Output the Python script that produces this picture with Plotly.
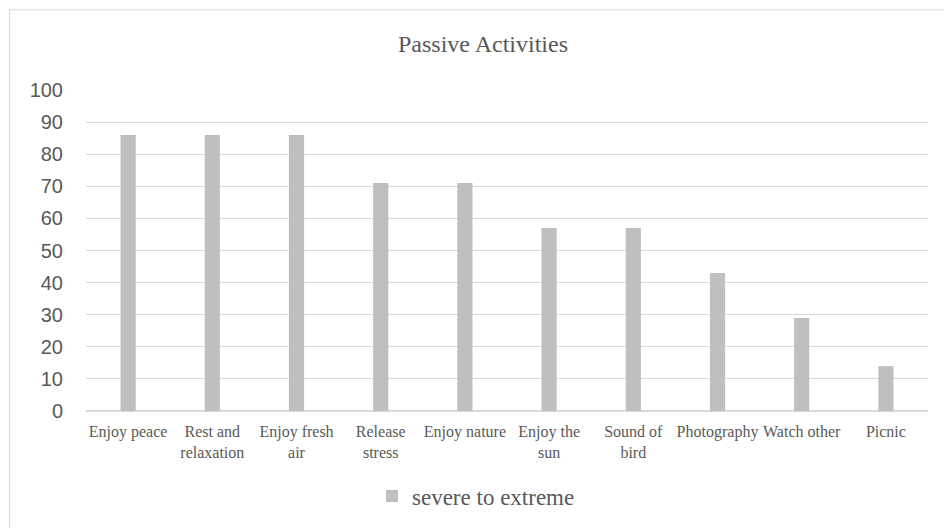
import plotly.graph_objects as go

# Passive activities rated "severe to extreme" (percent of respondents)
activities = [
    "Enjoy peace", "Rest and<br>relaxation", "Enjoy fresh<br>air", "Release<br>stress",
    "Enjoy nature", "Enjoy the<br>sun", "Sound of<br>bird", "Photography",
    "Watch other", "Picnic",
]
severe_to_extreme = [86, 86, 86, 71, 71, 57, 57, 43, 29, 14]
y_ticks = [0, 10, 20, 30, 40, 50, 60, 70, 80, 90, 100]

TEXT = "#595959"
GRID = "#d9d9d9"
BAR = "#bfbfbf"
SERIF = "Liberation Serif, Times New Roman, serif"
SANS = "Liberation Sans, Arial, sans-serif"

# plot-area geometry in pixels, used to place the frame lines in paper units
L, R, T, B = 86, 16, 90, 116
W, H = 944 - L - R, 528 - T - B


def px_x(p):
    return (p - L) / W


def px_y(p):
    return (528 - B - p) / H


fig = go.Figure(
    go.Bar(
        x=activities,
        y=severe_to_extreme,
        name="severe to extreme",
        marker=dict(color=BAR, line=dict(width=0)),
        width=0.18,
    )
)

fig.update_layout(
    width=944,
    height=528,
    margin=dict(l=L, r=R, t=T, b=B),
    paper_bgcolor="white",
    plot_bgcolor="white",
    title=dict(
        text="Passive Activities",
        font=dict(family=SERIF, size=24, color=TEXT),
        xref="paper", x=px_x(483), xanchor="center",
        yref="container", y=1 - 44 / 528, yanchor="middle",
    ),
    showlegend=True,
    legend=dict(
        orientation="h",
        font=dict(family=SERIF, size=23, color=TEXT),
        x=px_x(372), xanchor="left",
        y=px_y(496), yanchor="middle",
        itemwidth=30,
        bgcolor="rgba(0,0,0,0)",
    ),
    xaxis=dict(
        showgrid=False,
        showline=True, linecolor=GRID, linewidth=1,
        tickfont=dict(family=SERIF, size=16, color=TEXT),
        ticks="", ticklabelstandoff=6,
        fixedrange=True,
    ),
    yaxis=dict(
        range=[0, 100],
        tickvals=y_ticks,
        showgrid=True, gridcolor=GRID, gridwidth=1,
        zeroline=True, zerolinecolor=GRID,
        showline=False,
        tickfont=dict(family=SANS, size=20, color=TEXT),
        ticks="", ticklabelstandoff=22,
        fixedrange=True,
    ),
    shapes=[
        dict(type="line", xref="paper", yref="paper",
             x0=px_x(9.5), x1=px_x(9.5), y0=px_y(9.5), y1=px_y(540),
             line=dict(color=GRID, width=1)),
        dict(type="line", xref="paper", yref="paper",
             x0=px_x(9.5), x1=px_x(950), y0=px_y(9.5), y1=px_y(9.5),
             line=dict(color=GRID, width=1)),
    ],
)

fig.write_html("out.html")
